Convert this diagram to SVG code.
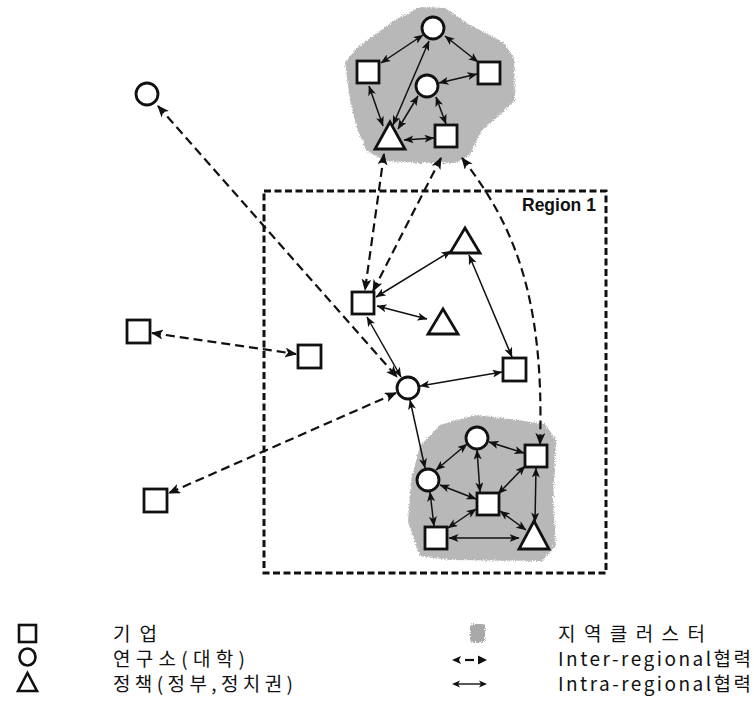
<svg xmlns="http://www.w3.org/2000/svg" width="754" height="717" viewBox="0 0 754 717">
<style>
.node{fill:#fff;stroke:#111;stroke-width:2.8}
.blob{fill:#b8b8b8;filter:url(#rough)}
.dash{fill:none;stroke:#111;stroke-width:2.2;stroke-dasharray:9 5;marker-start:url(#ah);marker-end:url(#ah)}
.solid{fill:none;stroke:#111;stroke-width:1.5;marker-start:url(#as);marker-end:url(#as)}
.region{fill:none;stroke:#111;stroke-width:3;stroke-dasharray:7 3.5}
.lbl{font-family:"Noto Sans CJK KR","Noto Sans",sans-serif;font-size:19px;fill:#111}
.rt{font-family:"Liberation Sans",Arial,sans-serif;font-weight:bold;font-size:17.5px;fill:#111}
</style>
<defs>
<marker id="ah" viewBox="0 0 12 10" refX="11" refY="5" markerWidth="12" markerHeight="10" markerUnits="userSpaceOnUse" orient="auto-start-reverse">
<path d="M0,0 L12,5 L0,10 L3,5 Z" fill="#111"/>
</marker>
<marker id="as" viewBox="0 0 10 8" refX="9.5" refY="4" markerWidth="10" markerHeight="8" markerUnits="userSpaceOnUse" orient="auto-start-reverse">
<path d="M0,0 L10,4 L0,8 L2.5,4 Z" fill="#111"/>
</marker>
<filter id="rough" x="-10%" y="-10%" width="120%" height="120%">
<feTurbulence type="fractalNoise" baseFrequency="0.9" numOctaves="2" seed="3" result="n"/>
<feDisplacementMap in="SourceGraphic" in2="n" scale="5" xChannelSelector="R" yChannelSelector="G"/>
</filter>
</defs>

<g id="clusters">
<polygon class="blob" points="420,7 445,8 470,25 503,42 514,58 515,100 500,115 482,130 470,155 455,163 420,163 385,161 366,150 356,125 350,100 345,62 358,47 395,20"/>
<polygon class="blob" points="440,425 475,415 510,419 545,424 556,440 553,500 556,545 542,561 450,560 420,556 408,522 411,480 420,446"/>
</g>

<g id="region1">
<rect class="region" x="264" y="191" width="342" height="382"/>
<text class="rt" x="522" y="211">Region 1</text>
</g>

<g id="connectors">
<line class="dash" x1="158" y1="106" x2="397" y2="377"/>
<line class="dash" x1="152" y1="333" x2="296" y2="354"/>
<line class="dash" x1="396" y1="393" x2="169" y2="493"/>
<line class="dash" x1="384" y1="154" x2="365" y2="290"/>
<line class="dash" x1="441" y1="158" x2="373" y2="291"/>
<path class="dash" d="M462,158 C510,220 545,290 540,444"/>
<line class="solid" x1="376" y1="297" x2="451" y2="251"/>
<line class="solid" x1="377" y1="306" x2="427" y2="319"/>
<line class="solid" x1="367" y1="317" x2="401" y2="377"/>
<line class="solid" x1="469" y1="255" x2="512" y2="357"/>
<line class="solid" x1="420" y1="386" x2="502" y2="372"/>
<line class="solid" x1="410" y1="400" x2="425" y2="468"/>
<line class="solid" x1="423" y1="35" x2="381" y2="63"/>
<line class="solid" x1="445" y1="36" x2="478" y2="62"/>
<line class="solid" x1="429" y1="41" x2="393" y2="125"/>
<line class="solid" x1="439" y1="83" x2="477" y2="74"/>
<line class="solid" x1="418" y1="96" x2="398" y2="129"/>
<line class="solid" x1="436" y1="97" x2="446" y2="124"/>
<line class="solid" x1="369" y1="86" x2="383" y2="126"/>
<line class="solid" x1="404" y1="140" x2="434" y2="138"/>
<line class="solid" x1="467" y1="444" x2="436" y2="470"/>
<line class="solid" x1="489" y1="442" x2="524" y2="453"/>
<line class="solid" x1="477" y1="450" x2="480" y2="492"/>
<line class="solid" x1="525" y1="466" x2="498" y2="494"/>
<line class="solid" x1="440" y1="485" x2="476" y2="499"/>
<line class="solid" x1="430" y1="492" x2="434" y2="526"/>
<line class="solid" x1="476" y1="509" x2="448" y2="528"/>
<line class="solid" x1="500" y1="511" x2="526" y2="530"/>
<line class="solid" x1="536" y1="468" x2="535" y2="522"/>
<line class="solid" x1="449" y1="538" x2="519" y2="538"/>
</g>

<g id="t-circle-top"><circle class="node" cx="433" cy="28" r="11"/></g>
<g id="t-square-left"><rect class="node" x="357" y="61" width="22" height="22"/></g>
<g id="t-square-right"><rect class="node" x="478" y="62" width="22" height="22"/></g>
<g id="t-circle-mid"><circle class="node" cx="427" cy="86" r="11"/></g>
<g id="t-triangle"><polygon class="node" points="390,122 405,149 375,149"/></g>
<g id="t-square-bottom"><rect class="node" x="435" y="125" width="22" height="22"/></g>

<g id="o-circle"><circle class="node" cx="147" cy="94" r="11"/></g>
<g id="o-square-mid"><rect class="node" x="127" y="320" width="23" height="23"/></g>
<g id="o-square-bottom"><rect class="node" x="144" y="489" width="23" height="23"/></g>

<g id="r-square-a"><rect class="node" x="352" y="292" width="22" height="22"/></g>
<g id="r-triangle-top"><polygon class="node" points="465,228 480,253 450,253"/></g>
<g id="r-triangle-mid"><polygon class="node" points="443,309 458,334 428,334"/></g>
<g id="r-square-left"><rect class="node" x="298" y="345" width="23" height="23"/></g>
<g id="r-square-right"><rect class="node" x="503" y="358" width="23" height="23"/></g>
<g id="r-circle"><circle class="node" cx="408" cy="388" r="11"/></g>

<g id="b-circle-top"><circle class="node" cx="477" cy="438" r="11"/></g>
<g id="b-square-right"><rect class="node" x="525" y="445" width="22" height="22"/></g>
<g id="b-circle-left"><circle class="node" cx="428" cy="480" r="11"/></g>
<g id="b-square-center"><rect class="node" x="477" y="493" width="22" height="22"/></g>
<g id="b-square-bl"><rect class="node" x="425" y="527" width="22" height="22"/></g>
<g id="b-triangle"><polygon class="node" points="534,521 549,549 519,549"/></g>

<g id="legend">
<rect x="19" y="625" width="17" height="17" fill="none" stroke="#111" stroke-width="2.6"/>
<ellipse cx="27.5" cy="657" rx="8" ry="8.5" fill="none" stroke="#111" stroke-width="2.6"/>
<polygon points="27.5,673 37,691 18,691" fill="none" stroke="#111" stroke-width="2.6"/>
<text class="lbl" x="113" y="641" textLength="44" lengthAdjust="spacing">기업</text>
<text class="lbl" x="113" y="666" textLength="132" lengthAdjust="spacing">연구소(대학)</text>
<text class="lbl" x="113" y="691" textLength="180" lengthAdjust="spacing">정책(정부,정치권)</text>
<rect x="470" y="624" width="15" height="18" rx="3" fill="#a9a9a9" filter="url(#rough)"/>
<path d="M452,660 L461,656 L459,660 L461,664 Z" fill="#111"/>
<line x1="465" y1="660" x2="474" y2="660" stroke="#111" stroke-width="2.2"/>
<path d="M487,660 L478,655.5 L478,664.5 Z" fill="#111"/>
<line x1="455" y1="684" x2="484" y2="684" stroke="#111" stroke-width="1.4"/>
<path d="M452,684 L460,680.5 L458,684 L460,687.5 Z" fill="#111"/>
<path d="M487,684 L479,680.5 L481,684 L479,687.5 Z" fill="#111"/>
<text class="lbl" x="558" y="641" textLength="147" lengthAdjust="spacing">지역클러스터</text>
<text class="lbl" x="558" y="666" textLength="193" lengthAdjust="spacing">Inter-regional협력</text>
<text class="lbl" x="558" y="691" textLength="193" lengthAdjust="spacing">Intra-regional협력</text>
</g>
</svg>
